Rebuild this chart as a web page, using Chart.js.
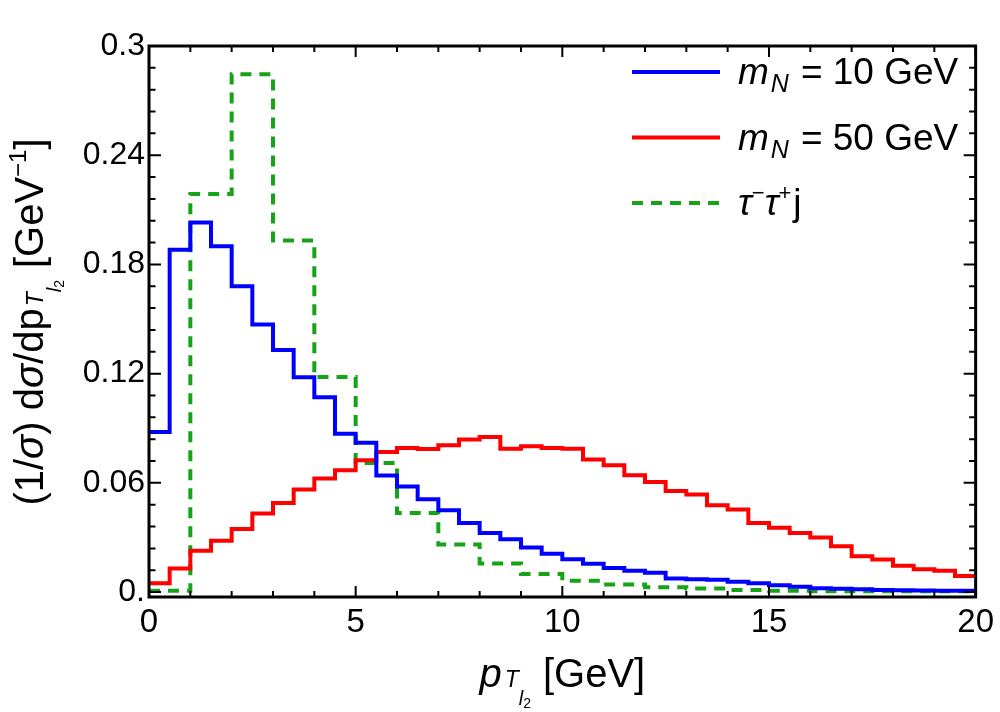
<!DOCTYPE html>
<html>
<head>
<meta charset="utf-8">
<script src="https://cdn.jsdelivr.net/npm/chart.js@4.4.0/dist/chart.umd.min.js"></script>
<style>
  html, body { margin: 0; padding: 0; background: #fff; }
  #wrap { width: 1000px; height: 712px; }
</style>
</head>
<body>
<div id="wrap"><canvas id="chart"></canvas></div>
<script>
// histogram bin widths (GeV)
const binWidthSignal = 0.5;
const binWidthBackground = 1;

// normalised pT(l2) distributions, one value per bin starting at 0 GeV
const mN10 = [0.088, 0.188, 0.203, 0.190, 0.168, 0.147, 0.133, 0.118, 0.107, 0.087,
              0.082, 0.064, 0.058, 0.051, 0.045, 0.038, 0.0325, 0.029, 0.0245, 0.021,
              0.018, 0.0155, 0.0133, 0.0117, 0.0106, 0.0075, 0.0071, 0.0068, 0.0057, 0.0048,
              0.0038, 0.0029, 0.0021, 0.0019, 0.0016, 0.0012, 0.0010, 0.0009, 0.0008, 0.0007];
const mN50 = [0.0048, 0.013, 0.0227, 0.0282, 0.0346, 0.0432, 0.049, 0.0563, 0.0624, 0.0669,
              0.0724, 0.077, 0.0792, 0.0786, 0.0806, 0.0838, 0.0852, 0.0788, 0.0801, 0.0792,
              0.0788, 0.0728, 0.0697, 0.0642, 0.0605, 0.0556, 0.0536, 0.0477, 0.0454, 0.038,
              0.0353, 0.0325, 0.030, 0.0252, 0.0197, 0.0179, 0.0144, 0.0126, 0.0117, 0.0089];
const tauTauJet = [0.0007, 0.2187, 0.2845, 0.1931, 0.1181, 0.0709, 0.0435, 0.0262, 0.0157, 0.0099,
                   0.0062, 0.0042, 0.0026, 0.0020, 0.0011, 0.0007, 0.0005, 0.0004, 0.0004, 0.0004];

const xTicks = [0, 5, 10, 15, 20];
const yTicks = [0, 0.06, 0.12, 0.18, 0.24, 0.3];
const xMinorStep = 1;
const yMinorStep = 0.012;

const FONT = '"Liberation Sans", Arial, sans-serif';

// bin contents -> step points (left edge of each bin, plus closing right edge)
function toSteps(values, width) {
    const pts = values.map((v, i) => ({ x: i * width, y: v }));
    pts.push({ x: values.length * width, y: values[values.length - 1] });
    return pts;
}

// draw a row of text pieces with different fonts / baseline shifts
function runsWidth(ctx, runs) {
    let w = 0;
    runs.forEach(r => { ctx.font = r.font; w += ctx.measureText(r.t).width + (r.gap || 0); });
    return w;
}
function drawRuns(ctx, runs, x, y) {
    let cx = x;
    runs.forEach(r => {
        ctx.font = r.font;
        ctx.fillText(r.t, cx, y + (r.dy || 0));
        cx += ctx.measureText(r.t).width + (r.gap || 0);
    });
}

const f = (size, italic) => (italic ? 'italic ' : '') + size + 'px ' + FONT;

// frame, inward ticks on all four sides, axis titles and legend
const decorations = {
    id: 'decorations',
    afterDraw(chart) {
        const ctx = chart.ctx;
        const a = chart.chartArea;
        const xs = chart.scales.x, ys = chart.scales.y;
        ctx.save();
        ctx.strokeStyle = '#000';
        ctx.lineWidth = 2;
        ctx.setLineDash([]);
        ctx.beginPath();
        for (let v = xs.min; v <= xs.max + 1e-9; v += xMinorStep) {
            const px = xs.getPixelForValue(v);
            const len = xTicks.includes(Math.round(v)) ? 11 : 6;
            ctx.moveTo(px, a.bottom); ctx.lineTo(px, a.bottom - len);
            ctx.moveTo(px, a.top); ctx.lineTo(px, a.top + len);
        }
        for (let k = 0; k * yMinorStep <= ys.max + 1e-9; k++) {
            const py = ys.getPixelForValue(k * yMinorStep);
            const len = k % 5 === 0 ? 12 : 6.5;
            ctx.moveTo(a.left, py); ctx.lineTo(a.left + len, py);
            ctx.moveTo(a.right, py); ctx.lineTo(a.right - len, py);
        }
        ctx.stroke();
        ctx.lineWidth = 3;
        ctx.strokeRect(a.left, a.top, a.right - a.left, a.bottom - a.top);

        ctx.fillStyle = '#000';
        ctx.textBaseline = 'alphabetic';
        ctx.textAlign = 'left';

        // x title
        const xRuns = [
            { t: 'p', font: f(40, true), gap: 3 },
            { t: 'T', font: f(23, true), dy: 0 },
            { t: 'l', font: f(20, true), dy: 18 },
            { t: '2', font: f(14), dy: 21, gap: 12 },
            { t: '[GeV]', font: f(40) }
        ];
        const xw = runsWidth(ctx, xRuns);
        drawRuns(ctx, xRuns, (a.left + a.right) / 2 - xw / 2, 687);

        // y title (rotated)
        const yRuns = [
            { t: '(1/', font: f(40) },
            { t: 'σ', font: f(40, true) },
            { t: ') d', font: f(40) },
            { t: 'σ', font: f(40, true) },
            { t: '/dp', font: f(40), gap: 2 },
            { t: 'T', font: f(23, true), dy: 0 },
            { t: 'l', font: f(20, true), dy: 18 },
            { t: '2', font: f(14), dy: 21, gap: 12 },
            { t: '[GeV', font: f(40) },
            { t: '−1', font: f(24), dy: -17 },
            { t: ']', font: f(40) }
        ];
        const yw = runsWidth(ctx, yRuns);
        ctx.save();
        ctx.translate(43, 322);
        ctx.rotate(-Math.PI / 2);
        drawRuns(ctx, yRuns, -yw / 2, 0);
        ctx.restore();

        // legend
        const rows = [
            [{ t: 'm', font: f(37, true), gap: 2 }, { t: 'N', font: f(25, true), dy: 8, gap: 12 },
             { t: '= 10 GeV', font: f(37) }],
            [{ t: 'm', font: f(37, true), gap: 2 }, { t: 'N', font: f(25, true), dy: 8, gap: 12 },
             { t: '= 50 GeV', font: f(37) }],
            [{ t: 'τ', font: f(37, true) }, { t: '−', font: f(22), dy: -15 }, { t: 'τ', font: f(37, true) },
             { t: '+', font: f(22), dy: -15, gap: 2 }, { t: 'j', font: f(37) }]
        ];
        chart.data.datasets.forEach((ds, i) => {
            const ly = 72 + i * 65.5;
            ctx.strokeStyle = ds.borderColor;
            ctx.lineWidth = ds.borderWidth;
            ctx.setLineDash(ds.borderDash || []);
            ctx.beginPath();
            ctx.moveTo(632, ly); ctx.lineTo(720, ly);
            ctx.stroke();
            ctx.setLineDash([]);
            drawRuns(ctx, rows[i], 738, ly + 12);
        });
        ctx.restore();
    }
};

const histStyle = { stepped: 'before', pointRadius: 0, fill: false, borderWidth: 4 };

new Chart(document.getElementById('chart'), {
    type: 'line',
    data: {
        datasets: [
            Object.assign({ label: 'mN = 10 GeV', data: toSteps(mN10, binWidthSignal), borderColor: '#0000ff' }, histStyle),
            Object.assign({ label: 'mN = 50 GeV', data: toSteps(mN50, binWidthSignal), borderColor: '#ff0000' }, histStyle),
            Object.assign({ label: 'tau tau j', data: toSteps(tauTauJet, binWidthBackground), borderColor: '#17a317',
                            borderDash: [11, 8] }, histStyle)
        ]
    },
    options: {
        responsive: true,
        maintainAspectRatio: false,
        animation: false,
        devicePixelRatio: 1,
        layout: { padding: { top: 46, right: 21, left: 0, bottom: 0 } },
        plugins: { legend: { display: false }, tooltip: { enabled: false } },
        scales: {
            x: {
                type: 'linear',
                min: 0, max: 20,
                grid: { display: false, drawTicks: false },
                border: { display: false },
                afterBuildTicks: s => { s.ticks = xTicks.map(v => ({ value: v })); },
                afterFit: s => { s.height = 115; },
                ticks: { color: '#000', font: { family: FONT, size: 33 }, padding: 6, maxRotation: 0 }
            },
            y: {
                type: 'linear',
                min: -0.0027, max: 0.3,
                grid: { display: false, drawTicks: false },
                border: { display: false },
                afterBuildTicks: s => { s.ticks = yTicks.map(v => ({ value: v })); },
                afterFit: s => { s.width = 149; },
                ticks: {
                    color: '#000', font: { family: FONT, size: 32 }, padding: 4,
                    callback: v => v === 0 ? '0.' : String(v)
                }
            }
        }
    },
    plugins: [decorations]
});
</script>
</body>
</html>
